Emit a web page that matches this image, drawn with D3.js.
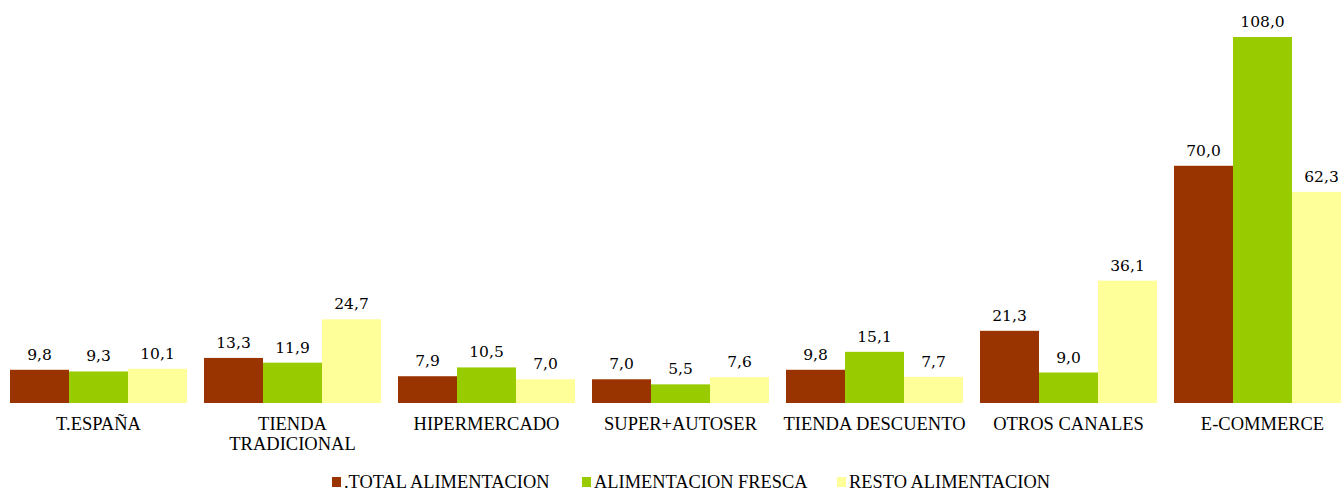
<!DOCTYPE html>
<html>
<head>
<meta charset="utf-8">
<script src="https://cdn.jsdelivr.net/npm/d3@7"></script>
<style>
html,body{margin:0;padding:0;background:#fff;}
svg{display:block;}
</style>
</head>
<body>
<svg id="chart" width="1341" height="491"></svg>
<script>
const categories = ["T.ESPAÑA","TIENDA TRADICIONAL","HIPERMERCADO","SUPER+AUTOSER","TIENDA DESCUENTO","OTROS CANALES","E-COMMERCE"];
const seriesNames = [".TOTAL ALIMENTACION","ALIMENTACION FRESCA","RESTO ALIMENTACION"];
const totalAlimentacion = [9.8,13.3,7.9,7.0,9.8,21.3,70.0];
const alimentacionFresca = [9.3,11.9,10.5,5.5,15.1,9.0,108.0];
const restoAlimentacion = [10.1,24.7,7.0,7.6,7.7,36.1,62.3];
const colors = ["#993300","#99CC00","#FFFF99"];

const SERIF = "'Liberation Serif', 'Times New Roman', serif";
const NUMFONT = "'DejaVu Serif', 'Liberation Serif', serif";

const series = [totalAlimentacion, alimentacionFresca, restoAlimentacion];
const svg = d3.select("#chart");
const baseY = 403, topY = 37;

const x = d3.scaleBand().domain(categories).range([10,1351]).paddingInner(17/194).paddingOuter(0);
const xs = d3.scaleBand().domain(d3.range(3)).range([0,x.bandwidth()]);
const y = d3.scaleLinear().domain([0,108]).range([baseY, topY]);
const fmt = v => d3.format(".1f")(v).replace(".", ",");

const groups = svg.append("g").selectAll("g").data(categories).join("g")
  .attr("transform", d => `translate(${x(d)},0)`);

groups.each(function(cat, ci){
  const g = d3.select(this);
  series.forEach((s, si) => {
    g.append("rect")
      .attr("x", xs(si)).attr("width", xs.bandwidth())
      .attr("y", y(s[ci])).attr("height", y(0) - y(s[ci]))
      .attr("fill", colors[si]);
    g.append("text")
      .attr("x", xs(si) + xs.bandwidth()/2)
      .attr("y", y(s[ci]) - 10)
      .attr("text-anchor","middle")
      .style("font-family", NUMFONT)
      .style("font-size", "15.5px")
      .attr("fill", "#000")
      .text(fmt(s[ci]));
  });
});

// category axis
const axis = svg.append("g").attr("transform", `translate(0,${baseY})`)
  .call(d3.axisBottom(x).tickSize(0).tickPadding(0));
axis.attr("font-family", null).attr("font-size", null);
axis.select(".domain").remove();
axis.selectAll(".tick text").remove();
axis.selectAll(".tick").each(function(d){
  const t = d3.select(this).append("text")
    .attr("text-anchor","middle")
    .style("font-family", SERIF).style("font-size","18.5px")
    .attr("fill","#000").attr("y", 27);
  const words = d.split(" ");
  let lines = [], cur = "";
  const tmp = svg.append("text").style("font-family", SERIF).style("font-size","18.5px");
  words.forEach(w => {
    const test = cur ? cur + " " + w : w;
    tmp.text(test);
    if (tmp.node().getComputedTextLength() > 186 && cur) { lines.push(cur); cur = w; }
    else cur = test;
  });
  lines.push(cur);
  tmp.remove();
  lines.forEach((l,i) => t.append("tspan").attr("x",0).attr("dy", i===0 ? 0 : 19.5).text(l));
});

// legend
const legendX = [332, 582, 837];
const legend = svg.append("g");
seriesNames.forEach((n,i) => {
  legend.append("rect").attr("x", legendX[i]).attr("y", 477).attr("width", 9).attr("height", 10).attr("fill", colors[i]);
  legend.append("text").attr("x", legendX[i] + 12).attr("y", 488)
    .style("font-family", SERIF).style("font-size","18.4px")
    .attr("fill","#000").text(n);
});
</script>
</body>
</html>
